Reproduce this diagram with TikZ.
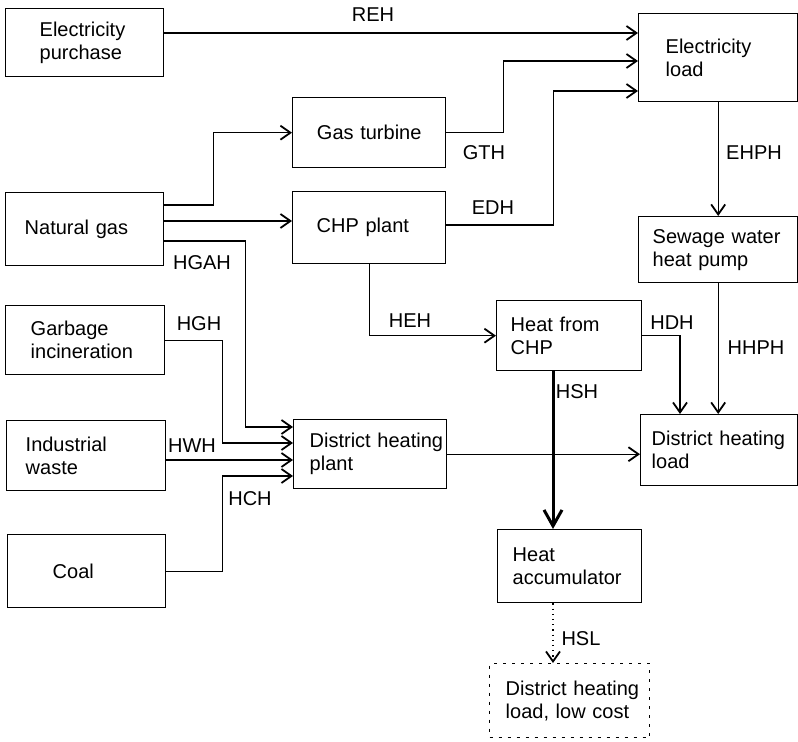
\documentclass[tikz,border=0pt]{standalone}
\usepackage{fontspec}
\setmainfont{Liberation Sans}
\usetikzlibrary{arrows.meta, calc}

\begin{document}
\begin{tikzpicture}[x=0.5pt, y=-0.5pt,
	every node/.style={font=\fontsize{10}{11.5}\selectfont},
	blk/.style n args={3}{draw, line width=0.7pt, anchor=north west, align=left, text width=#1, minimum height=#2, inner xsep=#3, inner ysep=0pt},
	flow/.style={line width=0.6pt, -{Straight Barb[length=5pt, width=7pt, line width=0.9pt]}},
	lbl/.style={inner sep=0pt}]
\useasboundingbox (0,0) rectangle (798,742);

% Draw sources
\node[blk={45pt}{34pt}{17pt}] (ep) at (5,8) {Electricity\\purchase};
\node[blk={60pt}{36.5pt}{9.5pt}] (ng) at (5,192) {Natural~gas};
\node[blk={54.5pt}{34.5pt}{12.5pt}] (gi) at (5,305) {Garbage\\incineration};
\node[blk={60.5pt}{35pt}{9.5pt}] (iw) at (6,420) {Industrial\\waste};
\node[blk={34pt}{36.5pt}{22.5pt}] (coal) at (7,534) {Coal};

% Draw plants
\node[blk={54.5pt}{35pt}{11pt}, align=center] (gt) at (292,97) {Gas~turbine};
\node[blk={52.5pt}{36pt}{12pt}] (chp) at (292,191) {CHP~plant};
\node[blk={60.5pt}{34.5pt}{8pt}] (dhp) at (293,419) {\mbox{District heating}\\plant};
\node[blk={58.5pt}{35pt}{7pt}] (hc) at (496,300) {Heat~from\\CHP};
\node[blk={57pt}{36.5pt}{7.5pt}] (ha) at (497,529) {Heat\\accumulator};

% Draw loads
\node[blk={52.5pt}{44pt}{13.5pt}] (el) at (638,13) {Electricity\\load};
\node[blk={65.5pt}{33pt}{7pt}] (hp) at (638,216) {\mbox{Sewage water}\\heat~pump};
\node[blk={67.5pt}{35.5pt}{5.5pt}] (dhl) at (640,414) {\mbox{District heating}\\load};
\node[blk={64pt}{37pt}{8pt}, dash pattern=on 1.5pt off 3pt] (lc) at (489,663) {\mbox{District heating}\\\mbox{load, low cost}};

% Draw flows
\draw[flow] (ep.east |- 0,33) -- (el.west |- 0,33);
\draw[flow] (ng.east |- 0,205) -- ++(49,0) |- (gt.west);
\draw[flow] (ng.east |- 0,221) -- (chp.west |- 0,221);
\draw[flow] (gt.east) -- ++(57,0) |- (el.west |- 0,61);
\draw[flow] (chp.east |- 0,225) -- ++(107,0) |- (el.west |- 0,91);
\draw[flow] (el.south) -- (hp.north);
\draw[flow] (ng.east |- 0,241) -- ++(81,0) |- (dhp.west |- 0,427);
\draw[flow] (gi.east) -- ++(57,0) |- (dhp.west |- 0,443);
\draw[flow] (iw.east |- 0,460) -- (dhp.west |- 0,460);
\draw[flow] (coal.east) -- ++(56,0) |- (dhp.west |- 0,476);
\draw[flow] (chp.south) |- (hc.west);
\draw[flow] (hc.east) -| (dhl.north -| 680,0);
\draw[flow] (hp.south) -- (hp.south |- dhl.north);
\draw[flow] (dhp.east) -- (dhl.west |- dhp.east);
\draw[flow, line width=1.5pt, -{Straight Barb[length=8pt, width=9pt, line width=1.5pt]}] (hc.south -| 553,0) -- (ha.north -| 553,0);
\draw[flow, dotted] (ha.south -| 553,0) -- (lc.north -| 553,0);

% Flow names
\node[lbl] (reh) at (373,15) {REH};
\node[lbl] (gth) at (484,153) {GTH};
\node[lbl] (edh) at (493,208) {EDH};
\node[lbl] (ehph) at (754,153) {EHPH};
\node[lbl] (hgah) at (202,263) {HGAH};
\node[lbl] (hgh) at (199,324) {HGH};
\node[lbl] (hwh) at (192,446) {HWH};
\node[lbl] (hch) at (250,499) {HCH};
\node[lbl] (heh) at (410,321) {HEH};
\node[lbl] (hdh) at (672,323) {HDH};
\node[lbl] (hhph) at (756,348) {HHPH};
\node[lbl] (hsh) at (577,392) {HSH};
\node[lbl] (hsl) at (581,639) {HSL};
\end{tikzpicture}
\end{document}
